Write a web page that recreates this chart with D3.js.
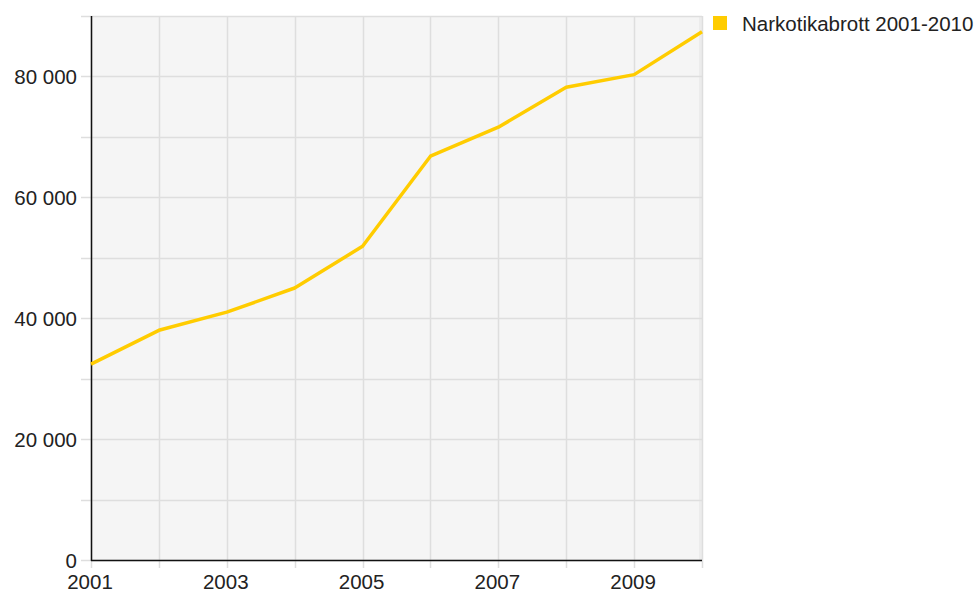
<!DOCTYPE html>
<html>
<head>
<meta charset="utf-8">
<script src="https://cdn.jsdelivr.net/npm/d3@7"></script>
<style>
  body { margin: 0; background: #fff; }
  text { font-family: "Liberation Sans", Arial, sans-serif; font-size: 20.5px; fill: #222; }
</style>
</head>
<body>
<svg id="chart" width="977" height="596"></svg>
<script>
// data
const years = [2001, 2002, 2003, 2004, 2005, 2006, 2007, 2008, 2009, 2010];
const values = [32400, 38000, 41000, 45000, 51900, 66800, 71600, 78200, 80300, 87400];
const yTickLabels = [0, 20000, 40000, 60000, 80000];
const xTickLabels = [2001, 2003, 2005, 2007, 2009];
const seriesName = 'Narkotikabrott 2001-2010';

const plotLeft = 91, plotRight = 702, plotTop = 16, plotBottom = 560;
const svg = d3.select('#chart');

const x = d3.scaleLinear().domain([2001, 2010]).range([plotLeft, plotRight]);
const y = d3.scaleLinear().domain([0, 90000]).range([plotBottom, plotTop]);

// bakgrund
svg.append('rect')
    .attr('x', plotLeft).attr('y', plotTop)
    .attr('width', plotRight - plotLeft).attr('height', plotBottom - plotTop)
    .attr('fill', '#f5f5f5');
// lite skugga i högerkanten
svg.append('rect')
    .attr('x', plotRight - 3).attr('y', plotTop)
    .attr('width', 3).attr('height', plotBottom - plotTop)
    .attr('fill', '#ececec');

// rutnät
const gridY = d3.range(0, 90001, 10000);
svg.append('g').selectAll('line').data(gridY).join('line')
    .attr('x1', plotLeft - 10).attr('x2', plotRight)
    .attr('y1', d => Math.round(y(d)) + 0.5).attr('y2', d => Math.round(y(d)) + 0.5)
    .attr('stroke', '#dedede').attr('stroke-width', 1.5);
svg.append('g').selectAll('line').data(years).join('line')
    .attr('x1', d => Math.round(x(d)) + 0.5).attr('x2', d => Math.round(x(d)) + 0.5)
    .attr('y1', plotTop).attr('y2', plotBottom + 8)
    .attr('stroke', '#dedede').attr('stroke-width', 1.5);

// axlar
svg.append('line')
    .attr('x1', plotLeft + 0.5).attr('x2', plotLeft + 0.5)
    .attr('y1', plotTop).attr('y2', plotBottom + 1)
    .attr('stroke', '#111').attr('stroke-width', 1.5);
svg.append('line')
    .attr('x1', plotLeft).attr('x2', plotRight)
    .attr('y1', plotBottom + 0.5).attr('y2', plotBottom + 0.5)
    .attr('stroke', '#111').attr('stroke-width', 1.5);

// etiketter
const fmt = d => d3.format(',')(d).replace(/,/g, ' ');
svg.append('g').selectAll('text').data(yTickLabels).join('text')
    .attr('x', plotLeft - 14).attr('y', d => y(d) + 7.5)
    .attr('text-anchor', 'end')
    .text(fmt);
svg.append('g').selectAll('text').data(xTickLabels).join('text')
    .attr('x', d => x(d) - 1).attr('y', plotBottom + 29)
    .attr('text-anchor', 'middle')
    .text(d => d);

// linje
const line = d3.line()
    .x((d, i) => x(years[i]))
    .y(d => y(d));
svg.append('path')
    .attr('d', line(values))
    .attr('fill', 'none')
    .attr('stroke', '#ffcc00')
    .attr('stroke-width', 3.5)
    .attr('stroke-linejoin', 'round');

// legend
svg.append('rect')
    .attr('x', 713).attr('y', 16).attr('width', 14).attr('height', 14)
    .attr('fill', '#ffcc00');
svg.append('text')
    .attr('x', 742).attr('y', 31)
    .text(seriesName);
</script>
</body>
</html>
